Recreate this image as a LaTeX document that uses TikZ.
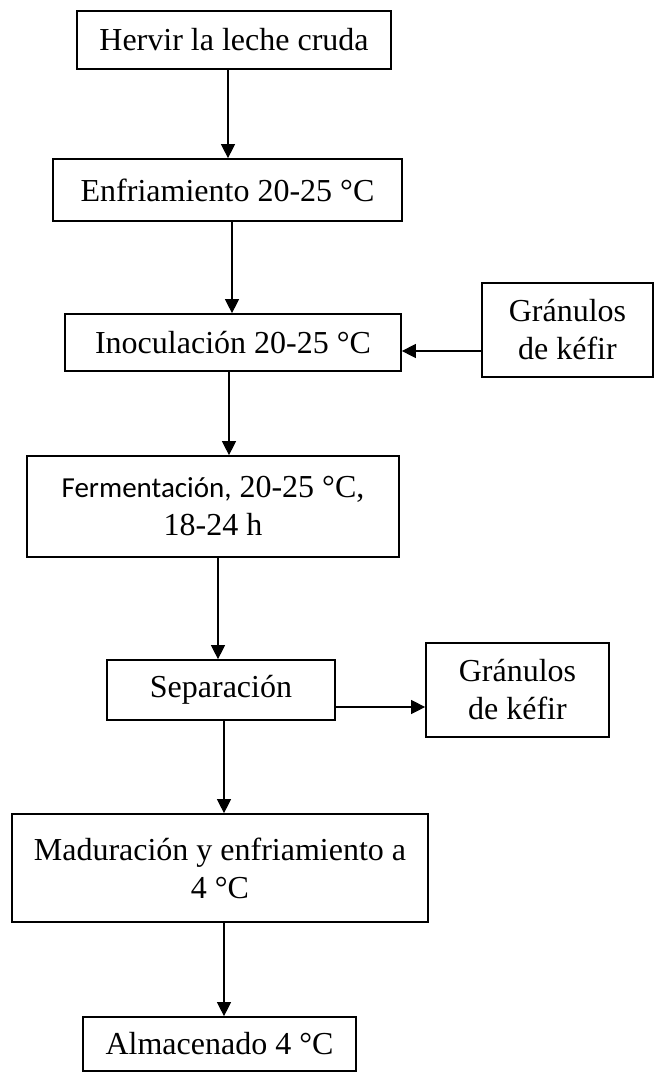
\documentclass[tikz,border=0pt]{standalone}
\usepackage{fontspec}
\setmainfont{Liberation Serif}
\newfontfamily\calib{Carlito}
\usetikzlibrary{arrows.meta}
\begin{document}
\begin{tikzpicture}[x=1pt,y=-1pt,
  box/.style={draw, line width=1.7pt, inner sep=0pt, align=center,
    font=\fontsize{32}{38}\selectfont},
  arr/.style={line width=1.1pt, -{Triangle[length=14pt,width=14pt]}}]
\useasboundingbox (0,0) rectangle (654,1072);
\node[box, minimum width=314pt, minimum height=58pt] (b1) at (234,40) {Hervir la leche cruda};
\node[box, minimum width=349pt, minimum height=62pt] (b2) at (227.5,190) {Enfriamiento 20-25 °C};
\node[box, minimum width=336pt, minimum height=57pt] (b3) at (233,342.5) {Inoculación 20-25 °C};
\node[box, minimum width=171pt, minimum height=94pt] (g1) at (567.5,330) {Gránulos\\de kéfir};
\node[box, minimum width=372pt, minimum height=101pt] (b5) at (213,506.5) {{\calib\fontsize{29}{38}\selectfont Fermentación,} 20-25 °C,\\18-24 h};
\node[box, minimum width=228pt, minimum height=60pt] (b6) at (221,690) {Separación};
\node[box, minimum width=183pt, minimum height=94pt] (g2) at (517.5,690) {Gránulos\\de kéfir};
\node[box, minimum width=416pt, minimum height=108pt] (b8) at (220,868) {Maduración y enfriamiento a\\4 °C};
\node[box, minimum width=273pt, minimum height=54pt] (b9) at (219.5,1044) {Almacenado 4 °C};
\draw[arr] (b1.south -| 228,0) -- (b2.north -| 228,0);
\draw[arr] (b2.south -| 232,0) -- (b3.north -| 232,0);
\draw[arr] (g1.west |- 0,351) -- (b3.east |- 0,351);
\draw[arr] (b3.south -| 229,0) -- (b5.north -| 229,0);
\draw[arr] (b5.south -| 218,0) -- (b6.north -| 218,0);
\draw[arr] (b6.east |- 0,707) -- (g2.west |- 0,707);
\draw[arr] (b6.south -| 224,0) -- (b8.north -| 224,0);
\draw[arr] (b8.south -| 224,0) -- (b9.north -| 224,0);
\end{tikzpicture}
\end{document}
